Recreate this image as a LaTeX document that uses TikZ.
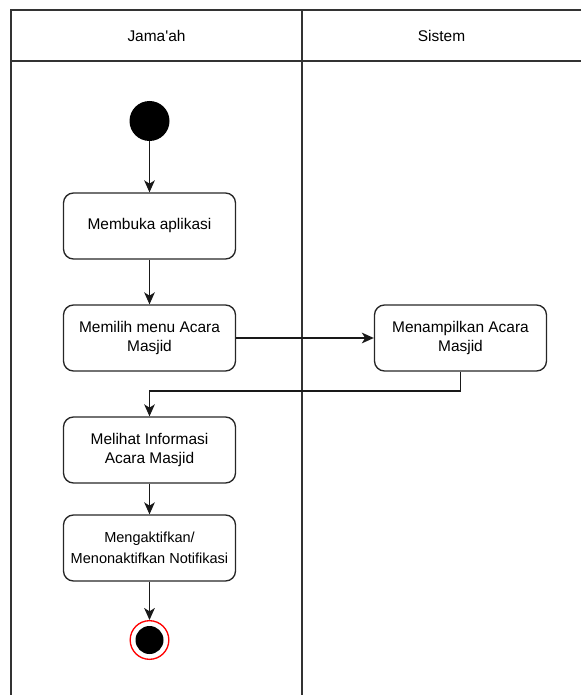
\documentclass[tikz,border=0pt]{standalone}
\usepackage{fontspec}
\setmainfont{Liberation Sans}
\newfontfamily\plainsans{Liberation Sans}
\usetikzlibrary{arrows.meta}
\begin{document}
\begin{tikzpicture}[x=0.75pt,y=-0.75pt,
  lane/.style={draw=black!80,line width=1.3pt},
  act/.style={draw=black!85,line width=1pt,rounded corners=7.5pt,minimum width=129pt,minimum height=49.5pt,align=center,font=\fontsize{11.6}{14.5}\selectfont,inner sep=2pt},
  flow/.style={draw=black!90,line width=1pt,-{Stealth[length=9pt,width=8pt,inset=2.5pt]}},
]
\useasboundingbox (0,0) rectangle (581,695);
% swimlanes
\draw[lane] (581,10) -- (11,10) -- (11,695);
\draw[lane] (302,10) -- (302,695);
\draw[lane] (11,61) -- (581,61);
\node[font=\plainsans\fontsize{11.6}{14}\selectfont] (h1) at (156.5,35.5) {Jama'ah};
\node[font=\fontsize{11.6}{14}\selectfont] (h2) at (441.5,35.5) {Sistem};
% nodes
\node[circle,fill=black,minimum size=30pt,inner sep=0pt] (start) at (149.5,121) {};
\node[act] (a1) at (149.5,226) {Membuka aplikasi};
\node[act] (a2) at (149.5,338) {Memilih menu Acara\\Masjid};
\node[act] (a3) at (460.5,338) {Menampilkan Acara\\Masjid};
\node[act] (a4) at (149.5,450) {Melihat Informasi\\Acara Masjid};
\node[act,font=\fontsize{10.9}{15.5}\selectfont] (a5) at (149.5,548) {Mengaktifkan/\\Menonaktifkan Notifikasi};
\node[circle,draw=red,line width=1pt,fill=white,minimum size=29pt,inner sep=0pt] (end) at (149.5,640) {};
\node[circle,fill=black,minimum size=21pt,inner sep=0pt] (endin) at (149.5,640) {};
% flows
\draw[flow] (start) -- (a1);
\draw[flow] (a1) -- (a2);
\draw[flow] (a2) -- (a3);
\coordinate (k1) at (460.5,391);
\coordinate (k2) at (149.5,391);
\draw[flow] (a3.south) -- (k1) -- (k2) -- (a4.north);
\draw[flow] (a4) -- (a5);
\draw[flow] (a5) -- (end);
\end{tikzpicture}
\end{document}
